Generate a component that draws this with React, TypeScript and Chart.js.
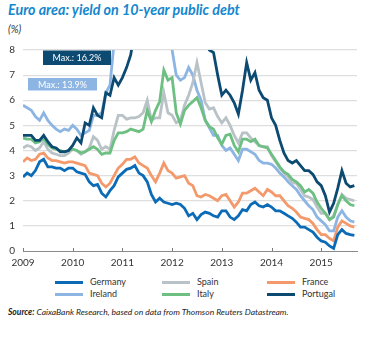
import React, { useEffect, useRef } from "react";
import { Chart, registerables } from "chart.js";

Chart.register(...registerables);

// Monthly 10-year yields (%), Jan 2009 – Sep 2015
const germany = [
  2.95, 3.1, 3.0, 3.2, 3.55, 3.65, 3.35, 3.35, 3.3, 3.3, 3.2, 3.3,
  3.3, 3.15, 3.1, 3.05, 2.75, 2.6, 2.65, 2.3, 2.15, 2.4, 2.6, 2.95,
  3.1, 3.25, 3.3, 3.4, 3.1, 3.0, 2.75, 2.25, 1.95, 2.1, 1.95, 1.9,
  1.85, 1.9, 1.85, 1.7, 1.4, 1.5, 1.25, 1.45, 1.55, 1.5, 1.4, 1.35,
  1.6, 1.6, 1.35, 1.25, 1.4, 1.65, 1.6, 1.85, 1.95, 1.8, 1.75, 1.85,
  1.75, 1.6, 1.6, 1.5, 1.4, 1.3, 1.15, 0.95, 0.95, 0.85, 0.75, 0.55,
  0.4, 0.35, 0.2, 0.1, 0.65, 0.85, 0.7, 0.65, 0.62,
];
const france = [
  3.55, 3.7, 3.6, 3.65, 3.85, 3.9, 3.7, 3.6, 3.6, 3.55, 3.5, 3.55,
  3.55, 3.5, 3.45, 3.4, 3.1, 3.05, 3.0, 2.7, 2.55, 2.7, 3.0, 3.3,
  3.45, 3.65, 3.65, 3.75, 3.5, 3.4, 3.3, 3.0, 2.75, 3.1, 3.5, 3.2,
  3.1, 2.9, 2.95, 3.0, 2.7, 2.6, 2.2, 2.15, 2.25, 2.2, 2.1, 2.0,
  2.2, 2.25, 2.0, 1.75, 1.95, 2.3, 2.3, 2.4, 2.5, 2.35, 2.2, 2.45,
  2.35, 2.2, 2.2, 2.0, 1.8, 1.7, 1.55, 1.35, 1.3, 1.25, 1.1, 0.85,
  0.65, 0.65, 0.5, 0.4, 0.95, 1.2, 1.1, 1.0, 0.95,
];
const spain = [
  4.1, 4.2, 4.15, 4.0, 4.1, 4.35, 4.05, 3.9, 3.85, 3.8, 3.8, 3.9,
  4.05, 4.0, 3.85, 3.95, 4.1, 4.55, 4.4, 4.05, 4.15, 4.05, 4.8, 5.4,
  5.4, 5.25, 5.3, 5.3, 5.35, 5.5, 6.0, 5.2, 5.3, 5.3, 6.3, 5.5,
  5.4, 5.1, 5.2, 5.8, 6.2, 6.7, 7.5, 6.7, 5.9, 5.65, 5.7, 5.35,
  5.1, 5.3, 5.0, 4.6, 4.3, 4.7, 4.7, 4.5, 4.35, 4.2, 4.15, 4.15,
  3.8, 3.55, 3.3, 3.1, 2.95, 2.7, 2.7, 2.45, 2.2, 2.15, 2.05, 1.75,
  1.5, 1.5, 1.25, 1.4, 1.85, 2.25, 2.1, 2.05, 2.0,
];
const italy = [
  4.5, 4.45, 4.45, 4.3, 4.35, 4.5, 4.25, 4.1, 4.05, 4.0, 3.95, 4.0,
  4.05, 4.0, 3.9, 3.95, 4.05, 4.15, 4.05, 3.85, 3.9, 3.9, 4.4, 4.7,
  4.7, 4.75, 4.85, 4.8, 4.75, 4.85, 5.6, 5.15, 5.6, 5.95, 7.2, 6.8,
  6.9, 5.5, 5.05, 5.6, 5.8, 5.95, 6.1, 5.7, 5.2, 4.95, 4.85, 4.5,
  4.25, 4.6, 4.65, 4.2, 3.95, 4.45, 4.45, 4.35, 4.45, 4.2, 4.15, 4.1,
  3.85, 3.6, 3.35, 3.15, 3.05, 2.85, 2.75, 2.6, 2.35, 2.45, 2.3, 1.95,
  1.7, 1.5, 1.25, 1.35, 1.85, 2.2, 2.0, 1.85, 1.8,
];
const ireland = [
  5.8, 5.7, 5.6, 5.35, 5.2, 5.5, 5.2, 5.0, 4.85, 4.75, 4.85, 4.8,
  5.0, 4.85, 4.6, 4.7, 4.8, 5.4, 5.4, 5.5, 6.3, 6.6, 8.3, 8.6,
  9.0, 9.2, 9.6, 10.0, 10.7, 11.4, 13.9, 9.8, 8.6, 8.2, 8.6, 8.4,
  8.0, 7.0, 6.8, 6.9, 7.3, 7.0, 6.4, 6.0, 5.2, 4.9, 4.6, 4.6,
  4.2, 4.0, 4.1, 3.85, 3.6, 4.05, 4.05, 3.95, 3.85, 3.6, 3.5, 3.5,
  3.45, 3.3, 3.1, 2.95, 2.75, 2.6, 2.45, 2.2, 2.0, 1.8, 1.65, 1.35,
  1.2, 1.05, 0.8, 0.8, 1.35, 1.6, 1.35, 1.2, 1.15,
];
const portugal = [
  4.6, 4.6, 4.6, 4.4, 4.4, 4.6, 4.35, 4.15, 4.1, 3.95, 3.95, 4.0,
  4.2, 4.5, 4.3, 5.1, 5.0, 5.7, 5.4, 5.3, 6.3, 6.2, 6.9, 6.6,
  6.9, 7.3, 7.8, 8.8, 9.5, 10.8, 11.5, 9.9, 11.0, 11.6, 11.9, 13.1,
  16.2, 12.8, 12.0, 11.5, 11.3, 10.5, 10.5, 9.9, 8.6, 8.0, 7.9, 7.0,
  6.2, 6.4, 6.2, 5.9, 5.45, 6.4, 7.5, 6.8, 7.1, 6.4, 6.1, 6.0,
  5.3, 5.0, 4.4, 3.9, 3.6, 3.5, 3.6, 3.4, 3.2, 3.2, 3.05, 2.75,
  2.6, 2.2, 1.55, 1.9, 2.5, 3.2, 2.7, 2.55, 2.6,
];

const months: string[] = [];
for (let y = 2009; y <= 2015; y++) {
  for (let m = 1; m <= 12; m++) {
    if (months.length < germany.length) months.push(`${y}-${String(m).padStart(2, "0")}`);
  }
}
const monthToX = (s: string) => {
  const [y, m] = s.split("-").map(Number);
  return y + (m - 1) / 12;
};

const yearTicks = [2009, 2010, 2011, 2012, 2013, 2014, 2015];
const yMin = 0;
const yMax = 8;
const xMin = 2009;
const xMax = 2015.72;

const seriesNames = ["Germany", "Spain", "France", "Ireland", "Italy", "Portugal"];
const seriesData: Record<string, number[]> = {
  Germany: germany,
  Spain: spain,
  France: france,
  Ireland: ireland,
  Italy: italy,
  Portugal: portugal,
};
const seriesColors: Record<string, string> = {
  Germany: "#0b6bb6",
  Spain: "#b8c2c7",
  France: "#f3996b",
  Ireland: "#8db5e3",
  Italy: "#6dbf82",
  Portugal: "#0c4a72",
};
// drawing order (lower = on top)
const seriesOrder: Record<string, number> = {
  Portugal: 0,
  Germany: 1,
  France: 2,
  Italy: 3,
  Spain: 4,
  Ireland: 5,
};

const maxLabels = [
  { text: "Max.: 16.2%", series: "Portugal" },
  { text: "Max.: 13.9%", series: "Ireland" },
];

const FONT = "Lato, 'Noto Sans', sans-serif";

const annotationPlugin = {
  id: "maxBoxes",
  afterDatasetsDraw(chart: any) {
    const { ctx, chartArea } = chart;
    const boxes = [
      { dx: 20, dy: 0.5, w: 68, h: 14.5 },
      { dx: 5, dy: 28, w: 69, h: 12.5 },
    ];
    ctx.save();
    maxLabels.forEach((lab, i) => {
      const b = boxes[i];
      const x = chartArea.left + b.dx;
      const y = chartArea.top + b.dy;
      ctx.fillStyle = seriesColors[lab.series];
      ctx.fillRect(x, y, b.w, b.h);
      ctx.fillStyle = "#ffffff";
      ctx.font = `9px ${FONT}`;
      ctx.textAlign = "center";
      ctx.textBaseline = "middle";
      ctx.fillText(lab.text, x + b.w / 2, y + b.h / 2 + 0.5);
    });
    ctx.restore();
  },
};

const tickMarkPlugin = {
  id: "upTicks",
  beforeDatasetsDraw(chart: any) {
    const { ctx, chartArea, scales } = chart;
    ctx.save();
    ctx.strokeStyle = "#7a7a7a";
    ctx.lineWidth = 1;
    yearTicks.forEach((yr) => {
      const px = Math.round(scales.x.getPixelForValue(yr)) + 0.5;
      ctx.beginPath();
      ctx.moveTo(px, chartArea.bottom);
      ctx.lineTo(px, chartArea.bottom - 3);
      ctx.stroke();
    });
    ctx.restore();
  },
};

function ChartCanvas() {
  const ref = useRef<HTMLCanvasElement | null>(null);
  useEffect(() => {
    if (!ref.current) return;
    const chart = new Chart(ref.current, {
      type: "line",
      data: {
        datasets: seriesNames.map((name) => ({
          label: name,
          data: seriesData[name].map((v, i) => ({ x: monthToX(months[i]), y: v })),
          borderColor: seriesColors[name],
          backgroundColor: seriesColors[name],
          borderWidth: 2.8,
          pointRadius: 0,
          tension: 0,
          fill: false,
          order: seriesOrder[name],
        })),
      },
      options: {
        animation: false,
        responsive: false,
        devicePixelRatio: 1,
        layout: { padding: { top: 11, right: 19, left: 0, bottom: 0 } },
        plugins: { legend: { display: false }, tooltip: { enabled: false }, title: { display: false } },
        scales: {
          x: {
            type: "linear",
            min: xMin,
            max: xMax,
            afterFit: (s: any) => {
              s.height = 25;
            },
            afterBuildTicks: (s: any) => {
              s.ticks = yearTicks.map((v) => ({ value: v }));
            },
            ticks: {
              callback: (v: any) => String(v),
              color: "#333",
              font: { family: FONT, size: 10 },
              padding: 6,
              maxRotation: 0,
              autoSkip: false,
            },
            grid: { display: false, drawTicks: false },
            border: { display: true, color: "#8a8a8a", width: 1 },
          },
          y: {
            min: yMin,
            max: yMax,
            afterFit: (s: any) => {
              s.width = 23;
            },
            ticks: {
              stepSize: 1,
              color: "#333",
              font: { family: FONT, size: 10 },
              padding: 8,
            },
            grid: {
              drawTicks: false,
              color: (c: any) => (c.tick && c.tick.value === 0 ? "rgba(0,0,0,0)" : "#dedede"),
              lineWidth: 1.2,
            },
            border: { display: false },
          },
        },
      },
      plugins: [tickMarkPlugin, annotationPlugin],
    } as any);
    return () => chart.destroy();
  }, []);
  return (
    <canvas
      ref={ref}
      width={376}
      height={240}
      style={{ position: "absolute", left: 0, top: 36, width: 376, height: 240 }}
    />
  );
}

const legendCols = [
  ["Germany", "Ireland"],
  ["Spain", "Italy"],
  ["France", "Portugal"],
];
const legendColX = [55, 162, 267];
const legendRowY = [282, 294];

export default function App() {
  return (
    <div
      style={{
        position: "absolute",
        left: 0,
        top: 0,
        width: 376,
        height: 338,
        background: "#fff",
        fontFamily: FONT,
        overflow: "hidden",
      }}
    >
      <div
        style={{
          position: "absolute",
          left: 8,
          top: 2,
          fontSize: 14.3,
          fontWeight: 700,
          fontStyle: "italic",
          color: "#1687cd",
          whiteSpace: "nowrap",
          lineHeight: "16px",
        }}
      >
        Euro area: yield on 10-year public debt
      </div>
      <div
        style={{
          position: "absolute",
          left: 8,
          top: 23,
          fontSize: 10.5,
          fontStyle: "italic",
          color: "#333",
          lineHeight: "12px",
        }}
      >
        (%)
      </div>
      <ChartCanvas />
      {legendCols.map((col, ci) =>
        col.map((name, ri) => (
          <div
            key={name}
            style={{
              position: "absolute",
              left: legendColX[ci],
              top: legendRowY[ri] - 6,
              height: 12,
              display: "flex",
              alignItems: "center",
              whiteSpace: "nowrap",
            }}
          >
            <div style={{ width: 28, height: 3, background: seriesColors[name], marginRight: 7 }} />
            <span style={{ fontSize: 9, color: "#333", lineHeight: "12px" }}>{name}</span>
          </div>
        ))
      )}
      <div
        style={{
          position: "absolute",
          left: 8,
          top: 307,
          fontSize: 8.5,
          fontStyle: "italic",
          color: "#222",
          whiteSpace: "nowrap",
          lineHeight: "11px",
        }}
      >
        <b>Source:</b> CaixaBank Research, based on data from Thomson Reuters Datastream.
      </div>
    </div>
  );
}
